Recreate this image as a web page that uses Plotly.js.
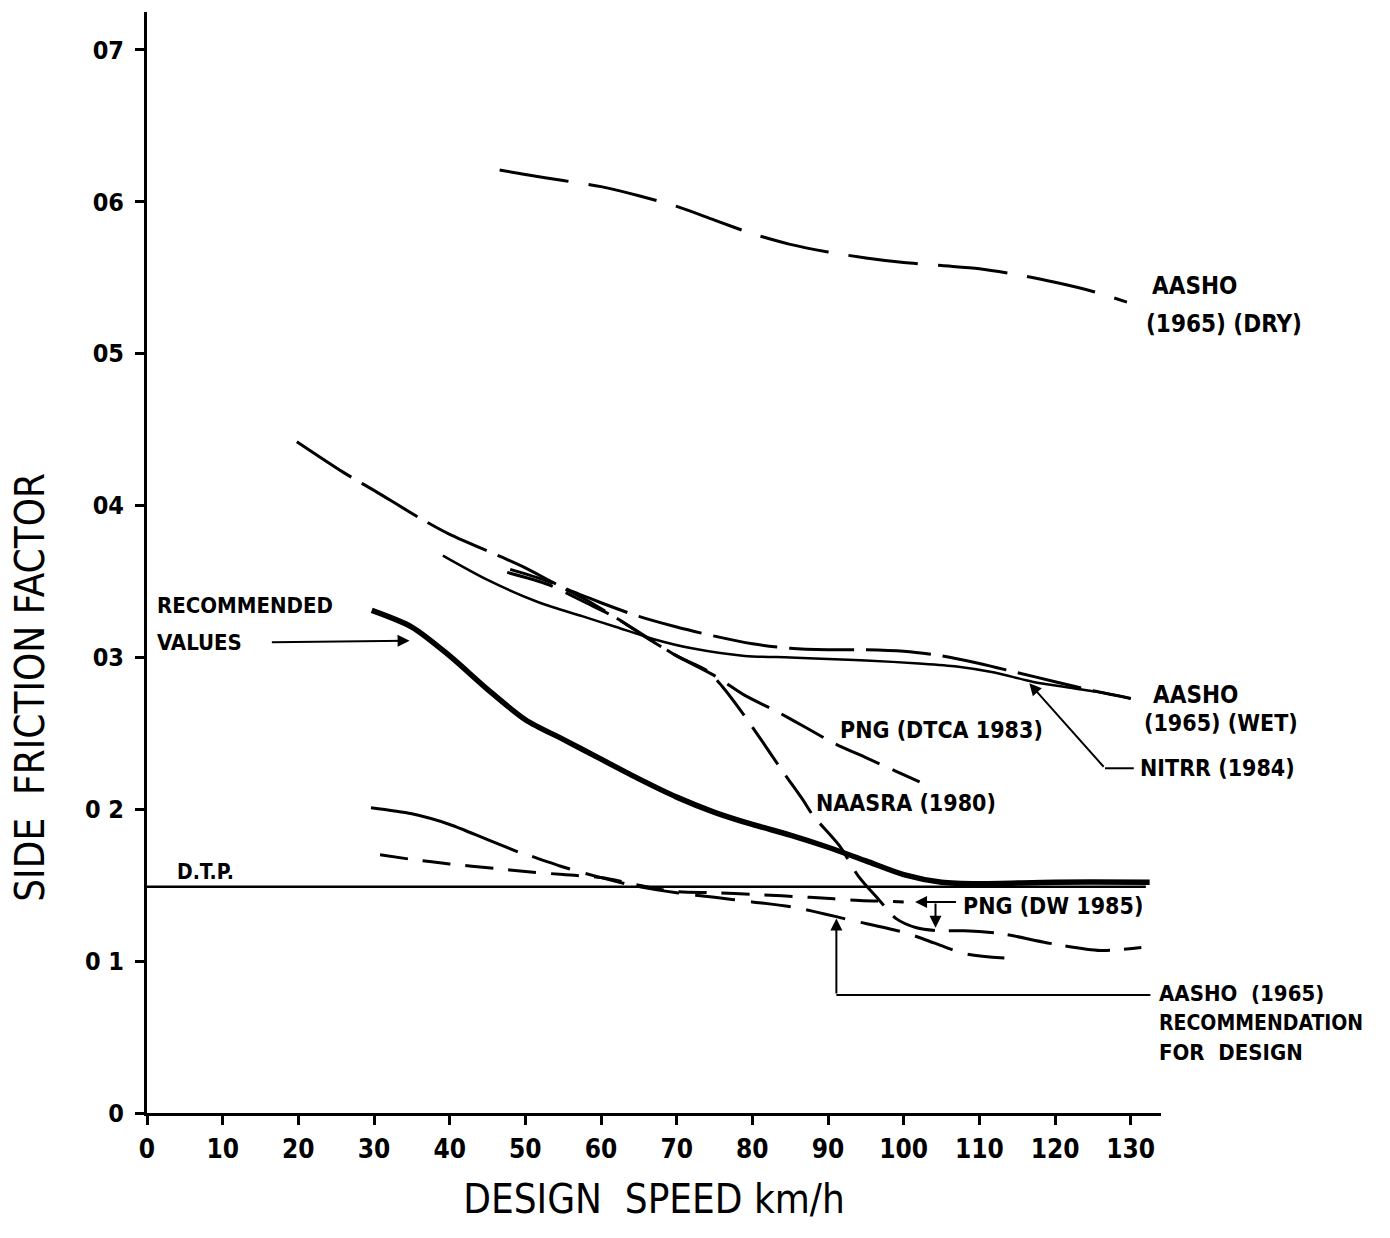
<!DOCTYPE html>
<html>
<head>
<meta charset="utf-8">
<script src="https://cdn.plot.ly/plotly-3.0.1.min.js"></script>
<style>html,body{margin:0;padding:0;background:#fff;}#chart{width:1390px;height:1238px;}</style>
</head>
<body>
<div id="chart"></div>
<script>
// ---- data ----
const aashoDryX = [46.6, 50, 55, 60, 65, 70, 75, 80, 85, 90, 95, 100, 105, 110, 115, 120, 125, 129.5];
const aashoDryY = [0.621, 0.618, 0.614, 0.610, 0.604, 0.597, 0.588, 0.579, 0.572, 0.567, 0.563, 0.560, 0.558, 0.556, 0.552, 0.547, 0.541, 0.534];

const aashoWetX = [19.8, 25.9, 30, 36.3, 40, 46.9, 50, 55, 60, 65, 70, 75, 80, 85, 90, 95, 100, 105, 110, 115, 120, 125, 130];
const aashoWetY = [0.442, 0.422, 0.410, 0.391, 0.381, 0.366, 0.359, 0.346, 0.336, 0.327, 0.320, 0.314, 0.309, 0.306, 0.305, 0.305, 0.304, 0.301, 0.296, 0.290, 0.284, 0.278, 0.273];

const nitrrX = [39.1, 45, 51.9, 57.6, 62, 67, 72, 79, 85, 90, 95, 102, 107, 112, 117, 122, 126, 130];
const nitrrY = [0.367, 0.351, 0.336, 0.327, 0.320, 0.312, 0.306, 0.301, 0.300, 0.299, 0.298, 0.296, 0.294, 0.290, 0.284, 0.280, 0.277, 0.273];

const pngDtcaX = [47.6, 53, 58, 62, 66, 70, 75, 79, 83, 87, 91, 95, 99, 102.1];
const pngDtcaY = [0.356, 0.348, 0.336, 0.326, 0.313, 0.301, 0.288, 0.275, 0.265, 0.254, 0.243, 0.234, 0.225, 0.218];

const naasraX = [48, 53, 58, 62, 66.8, 70, 74.1, 76, 78.6, 81.4, 84, 86.7, 88, 91.5, 94, 96.8, 99, 101.7, 104.8, 108, 113, 119, 126, 131.4];
const naasraY = [0.358, 0.350, 0.338, 0.326, 0.311, 0.301, 0.291, 0.281, 0.264, 0.244, 0.225, 0.206, 0.196, 0.176, 0.156, 0.140, 0.128, 0.122, 0.120, 0.120, 0.118, 0.112, 0.107, 0.109];

const recX = [29.7, 35, 40, 45, 50, 55, 60, 65, 70, 75, 80, 85, 90, 95, 100, 105, 110, 120, 132.5];
const recY = [0.331, 0.320, 0.301, 0.279, 0.259, 0.246, 0.233, 0.220, 0.208, 0.198, 0.190, 0.183, 0.175, 0.166, 0.157, 0.152, 0.151, 0.152, 0.152];

const dtpX = [0, 132];
const dtpY = [0.149, 0.149];

const designSolidX = [29.6, 35, 40, 45, 49];
const designSolidY = [0.201, 0.197, 0.190, 0.180, 0.172];
const designDashX = [50.9, 55, 60, 65, 70, 75, 80, 86, 93, 100, 104, 108, 113.3];
const designDashY = [0.169, 0.162, 0.155, 0.149, 0.145, 0.142, 0.139, 0.135, 0.127, 0.119, 0.112, 0.105, 0.102];

const pngDwX = [30.8, 35, 40, 46, 50, 55, 60, 65, 69.5, 75, 80, 87.6, 94.2, 100];
const pngDwY = [0.170, 0.167, 0.164, 0.161, 0.159, 0.157, 0.155, 0.150, 0.146, 0.145, 0.144, 0.142, 0.140, 0.139];

const xTickVals = [0, 10, 20, 30, 40, 50, 60, 70, 80, 90, 100, 110, 120, 130];
const xTickText = ["0", "10", "20", "30", "40", "50", "60", "70", "80", "90", "100", "110", "120", "130"];
const yTickVals = [0, 0.1, 0.2, 0.3, 0.4, 0.5, 0.6, 0.7];
const yTickText = ["0", "0 1", "0 2", "03", "04", "05", "06", "07"];

// ---- chart ----
const FONT = "DejaVu Sans Condensed, sans-serif";
function tr(x, y, width, dash) {
  return {x: x, y: y, type: 'scatter', mode: 'lines', hoverinfo: 'skip',
          line: {color: '#000', width: width, dash: dash, shape: 'spline', smoothing: 0.8}};
}
const traces = [
  tr(aashoDryX, aashoDryY, 3, '70px,20px'),
  tr(aashoWetX, aashoWetY, 3, '65px,12px'),
  tr(nitrrX, nitrrY, 2.5, 'solid'),
  tr(pngDtcaX, pngDtcaY, 3, '48px,14px'),
  tr(naasraX, naasraY, 3, '45px,14px'),
  tr(recX, recY, 5.5, 'solid'),
  tr(dtpX, dtpY, 2.5, 'solid'),
  tr(designSolidX, designSolidY, 3, 'solid'),
  tr(designDashX, designDashY, 3, '40px,16px'),
  tr(pngDwX, pngDwY, 3, '28px,15px')
];

function lbl(x, y, text, size) {
  return {x: x, y: y, xref: 'x', yref: 'y', text: text, showarrow: false,
          xanchor: 'left', yanchor: 'middle',
          font: {family: FONT, size: size || 24, color: '#000', weight: 'bold'}};
}
function arrow(x, y, ax, ay) {
  return {x: x, y: y, ax: ax, ay: ay, xref: 'x', yref: 'y', axref: 'x', ayref: 'y',
          text: '', showarrow: true, arrowhead: 2, arrowsize: 1.2, arrowwidth: 2, arrowcolor: '#000'};
}

const annotations = [
  lbl(132.6, 0.5445, 'AASHO'),
  lbl(131.8, 0.5195, '(1965) (DRY)'),
  lbl(1.0, 0.334, 'RECOMMENDED', 22),
  lbl(1.0, 0.310, 'VALUES', 22),
  lbl(91.3, 0.252, 'PNG (DTCA 1983)', 23),
  lbl(88.2, 0.204, 'NAASRA (1980)', 23),
  lbl(132.7, 0.275, 'AASHO'),
  lbl(131.5, 0.257, '(1965) (WET)', 23),
  lbl(130.9, 0.227, 'NITRR (1984)', 23),
  lbl(3.7, 0.159, 'D.T.P.', 21),
  lbl(107.6, 0.136, 'PNG (DW 1985)', 23),
  lbl(133.5, 0.079, 'AASHO  (1965)', 22),
  lbl(133.5, 0.059, 'RECOMMENDATION', 21),
  lbl(133.5, 0.040, 'FOR  DESIGN', 22),
  arrow(34.7, 0.311, 16.3, 0.310),
  arrow(116.6, 0.283, 126.6, 0.227),
  arrow(91.1, 0.128, 91.1, 0.0777),
  arrow(101.5, 0.139, 107.1, 0.139),
  arrow(104.2, 0.122, 104.2, 0.139),
  {xref: 'paper', yref: 'y', x: 0, y: 0.28, xshift: -117, text: 'SIDE  FRICTION FACTOR',
   textangle: -90, showarrow: false, xanchor: 'center', yanchor: 'middle',
   font: {family: FONT, size: 40, color: '#000'}}
];

const shapes = [
  {type: 'line', xref: 'x', yref: 'y', x0: 126.6, y0: 0.227, x1: 130.4, y1: 0.227, line: {color: '#000', width: 2}},
  {type: 'line', xref: 'x', yref: 'y', x0: 91.1, y0: 0.0777, x1: 132.6, y1: 0.0777, line: {color: '#000', width: 2}}
];

const layout = {
  width: 1390, height: 1238,
  margin: {l: 147, r: 229, t: 12, b: 125},
  paper_bgcolor: '#fff', plot_bgcolor: '#fff',
  showlegend: false,
  font: {family: FONT, color: '#000'},
  xaxis: {
    range: [0, 134], autorange: false, showgrid: false, zeroline: false,
    showline: true, linecolor: '#000', linewidth: 3,
    ticks: 'outside', ticklen: 9, tickwidth: 3, tickcolor: '#000',
    tickmode: 'array', tickvals: xTickVals, ticktext: xTickText,
    tickfont: {family: FONT, size: 26, color: '#000', weight: 'bold'},
    ticklabelstandoff: 2,
    title: {text: 'DESIGN  SPEED km/h', standoff: 22,
            font: {family: FONT, size: 40, color: '#000'}}
  },
  yaxis: {
    range: [0, 0.725], autorange: false, showgrid: false, zeroline: false,
    showline: true, linecolor: '#000', linewidth: 3,
    ticks: 'outside', ticklen: 9, tickwidth: 3, tickcolor: '#000',
    tickmode: 'array', tickvals: yTickVals, ticktext: yTickText,
    tickfont: {family: FONT, size: 25, color: '#000', weight: 'bold'},
    ticklabelstandoff: 6
  },
  annotations: annotations,
  shapes: shapes
};

Plotly.newPlot('chart', traces, layout, {displayModeBar: false, staticPlot: true});
</script>
</body>
</html>
